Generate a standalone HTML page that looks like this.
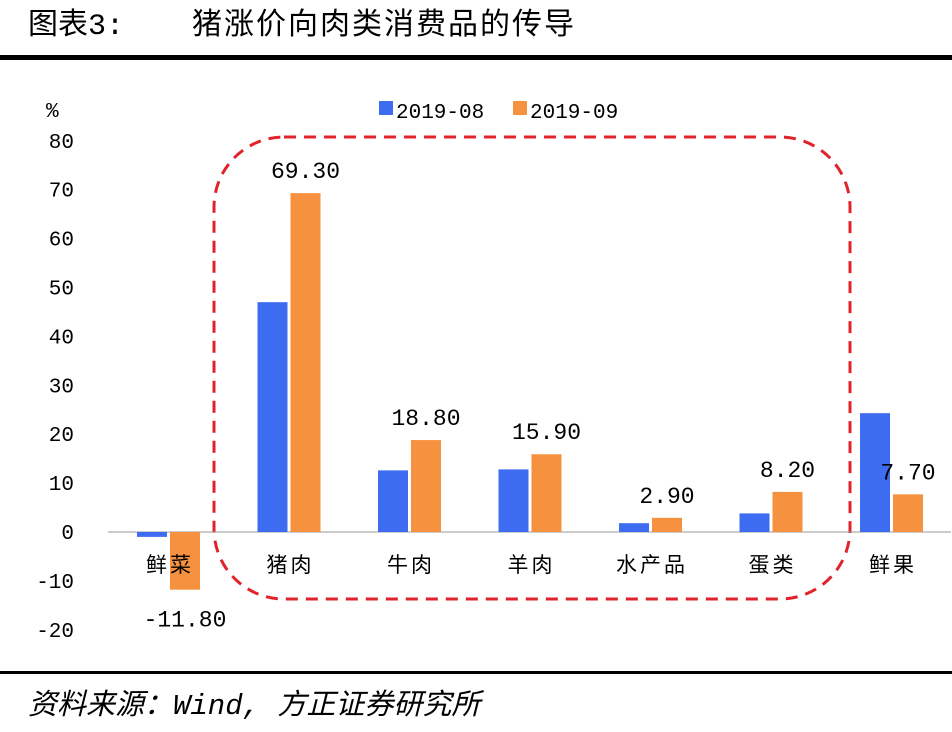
<!DOCTYPE html>
<html><head><meta charset="utf-8"><style>
body{margin:0;background:#fff;width:952px;height:727px;overflow:hidden;font-family:"Liberation Mono","Noto Sans CJK SC",monospace;}
</style></head><body>
<svg id="c" width="952" height="727" xmlns="http://www.w3.org/2000/svg">
<text x="28" y="34" font-size="30" font-family="'Liberation Mono','Noto Sans CJK SC',monospace" fill="#000">图表3:<tspan x="192" letter-spacing="2">猪涨价向肉类消费品的传导</tspan></text>
<rect x="0" y="55" width="952" height="5" fill="#000"/>
<rect x="0" y="671" width="952" height="3" fill="#000"/>
<text x="28" y="714" font-size="29" font-style="italic" font-family="'Liberation Mono','Noto Sans CJK SC',monospace">资料来源：Wind, 方正证券研究所</text>
<text x="46" y="117" font-size="21">%</text>
<rect x="379" y="101" width="14" height="14" fill="#3e6cf0"/>
<text x="396" y="118" font-size="21">2019-08</text>
<rect x="513" y="101" width="14" height="14" fill="#f5913f"/>
<text x="530" y="118" font-size="21">2019-09</text>
<rect x="214" y="137" width="636" height="462" rx="70" fill="none" stroke="#e0232a" stroke-width="3" stroke-dasharray="12,8"/>
<g id="g"></g>
</svg>
<script>
const categories=["鲜菜","猪肉","牛肉","羊肉","水产品","蛋类","鲜果"];
const aug=[-1.0,47.0,12.6,12.8,1.8,3.8,24.3];
const sep=[-11.8,69.3,18.8,15.9,2.9,8.2,7.7];
const sepLabels=["-11.80","69.30","18.80","15.90","2.90","8.20","7.70"];
const yTicks=[-20,-10,0,10,20,30,40,50,60,70,80];
const ns="http://www.w3.org/2000/svg";
const g=document.getElementById('g');
const y=v=>532-v*4.89;
const cx=i=>168+i*120.5;
function mk(t,a){const e=document.createElementNS(ns,t);for(const k in a)e.setAttribute(k,a[k]);g.appendChild(e);return e;}
yTicks.forEach(v=>{const t=mk('text',{x:74,y:y(v)+7,'font-size':21,'text-anchor':'end'});t.textContent=v;

});
const ax=mk('line',{x1:108,x2:951,y1:532,y2:532,stroke:'#999','stroke-width':1});


categories.forEach((c,i)=>{
 const a=aug[i],s=sep[i];
 const b1=mk('rect',{x:cx(i)-31,y:Math.min(y(a),y(0)),width:30,height:Math.abs(y(a)-y(0)),fill:'#3e6cf0'});
 
 
 const b2=mk('rect',{x:cx(i)+2,y:Math.min(y(s),y(0)),width:30,height:Math.abs(y(s)-y(0)),fill:'#f5913f'});
 
 
 const lb=mk('text',{x:cx(i)+17,y:s<0?y(s)+37:y(s)-15,'font-size':23,'text-anchor':'middle'});
 lb.textContent=sepLabels[i];
 
 
 const cl=mk('text',{x:cx(i)+2,y:572,'font-size':21,'text-anchor':'middle','letter-spacing':3,'font-family':"'Noto Sans CJK SC',sans-serif"});
 cl.textContent=c;
 
 
});
</script>
</body></html>
